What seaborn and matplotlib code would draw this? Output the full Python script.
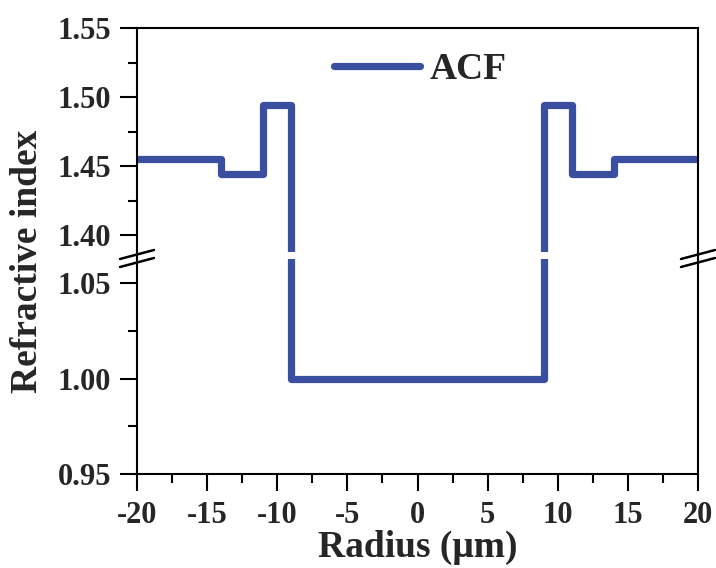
import numpy as np
import pandas as pd
import matplotlib
matplotlib.use("Agg")
import matplotlib.pyplot as plt
from matplotlib.lines import Line2D
from matplotlib.ticker import MultipleLocator, FormatStrFormatter
import seaborn as sns

# ---- data ----
radius_edges = [-20, -14, -11, -9, 9, 11, 14, 20]
index_values = [1.455, 1.444, 1.494, 1.000, 1.494, 1.444, 1.455, 1.455]
series_name = "ACF"
x_ticks = [-20, -15, -10, -5, 0, 5, 10, 15, 20]
top_yticks = [1.40, 1.45, 1.50, 1.55]
bottom_yticks = [0.95, 1.00, 1.05]

sns.set_theme(style="white")
plt.rcParams['font.family'] = ['Liberation Serif', 'DejaVu Serif']
plt.rcParams['font.weight'] = 'bold'

df = pd.DataFrame({"Radius": radius_edges, "Index": index_values, "Series": series_name})
color = "#3a4fa0"

fig = plt.figure(figsize=(7.16, 5.68), dpi=100)
L, R = 137/716, 698/716
ax_top = fig.add_axes([L, 1-252/568, R-L, (252-28)/568])
ax_bot = fig.add_axes([L, 1-474/568, R-L, (474-259)/568])

for ax in (ax_top, ax_bot):
    sns.lineplot(data=df, x="Radius", y="Index", ax=ax, sort=False, color=color,
                 linewidth=5.2, drawstyle="steps-post", legend=False,
                 solid_joinstyle="round", label=series_name if ax is ax_top else None)
    ax.set_xlim(-20, 20)
    ax.set_xlabel("")
    ax.set_ylabel("")
    for s in ax.spines.values():
        s.set_color("black")
        s.set_linewidth(1.5)
    ax.tick_params(axis='both', which='both', direction='out', color='black',
                   left=True, bottom=True, right=False, top=False, width=1.5)
    ax.tick_params(axis='both', which='major', length=12.5, labelsize=22)
    ax.tick_params(axis='y', which='major', pad=6)
    ax.tick_params(axis='x', which='major', pad=7)
    ax.tick_params(axis='both', which='minor', length=6.5)
    ax.yaxis.set_minor_locator(MultipleLocator(0.025))
    ax.yaxis.set_major_formatter(FormatStrFormatter('%.2f'))
    ax.set_facecolor("none")

ax_top.set_ylim(1.3877, 1.55)
ax_top.set_yticks(top_yticks)
ax_top.spines['bottom'].set_visible(False)
ax_top.tick_params(axis='x', which='both', bottom=False, labelbottom=False)

ax_bot.set_ylim(0.95, 1.0626)
ax_bot.set_yticks(bottom_yticks)
ax_bot.spines['top'].set_visible(False)
ax_bot.set_xticks(x_ticks)
ax_bot.xaxis.set_minor_locator(MultipleLocator(2.5))
ax_bot.set_xticklabels([str(t) for t in x_ticks])

# continuous side spines across the gap
for xf in (L, R):
    fig.add_artist(Line2D([xf, xf], [1-259/568, 1-252/568], color='black', lw=1.5,
                          transform=fig.transFigure))
# break marks
for xc in (L, R):
    for dy in (0, 8):
        y0 = 1 - (259 + dy)/568
        y1 = 1 - (250 + dy)/568
        fig.add_artist(Line2D([xc - 17/716, xc + 17/716], [y0, y1], color='black',
                              lw=1.8, transform=fig.transFigure))

leg = ax_top.legend(loc='center left', bbox_to_anchor=(334/716, 1-70/568),
                    bbox_transform=fig.transFigure, frameon=False,
                    handlelength=2.3, fontsize=27, borderaxespad=0, borderpad=0,
                    handletextpad=0.25)

fig.text(28/716, 1-261/568, "Refractive index", rotation=90, ha='center', va='center',
         fontsize=27, fontweight='bold')
fig.text(418/716, 1-547/568, "Radius (\u03bcm)", ha='center', va='center',
         fontsize=27, fontweight='bold')

fig.savefig("out.png", dpi=100)
